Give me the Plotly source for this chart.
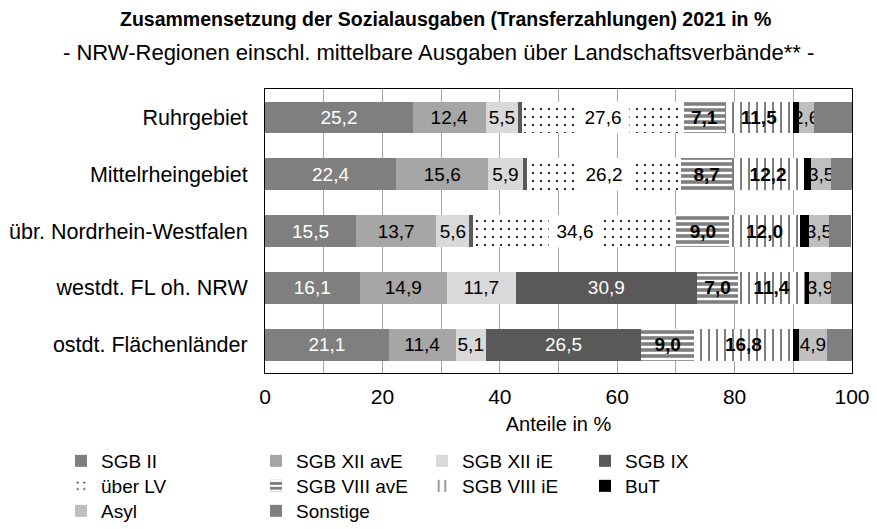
import plotly.graph_objects as go

regions = ["Ruhrgebiet", "Mittelrheingebiet", "übr. Nordrhein-Westfalen",
           "westdt. FL oh. NRW", "ostdt. Flächenländer"]
sgb2 = [25.2, 22.4, 15.5, 16.1, 21.1]
sgb12_ave = [12.4, 15.6, 13.7, 14.9, 11.4]
sgb12_ie = [5.5, 5.9, 5.6, 11.7, 5.1]
sgb9 = [0.6, 0.8, 0.7, 30.9, 26.5]
ueber_lv = [27.6, 26.2, 34.6, 0.0, 0.0]
sgb8_ave = [7.1, 8.7, 9.0, 7.0, 9.0]
sgb8_ie = [11.5, 12.2, 12.0, 11.4, 16.8]
but = [1.0, 1.2, 1.5, 0.6, 1.0]
asyl = [2.6, 3.5, 3.5, 3.9, 4.9]
sonstige = [6.5, 3.5, 3.8, 3.5, 4.2]
x_ticks = [0, 20, 40, 60, 80, 100]

FONT = "Liberation Sans, Arial, sans-serif"
FS = 19

W, H = 877, 529
ML, MR, MT, MB = 265, 25, 89, 156
PW, PH = W - ML - MR, H - MT - MB

# legend grid: text start x of each column, centre y of each row (pixels)
LEG_COL_X = [101, 296, 462, 625]
LEG_ROW_Y = [461, 486, 511]


def fmt(v):
    return f"{v:.1f}".replace(".", ",")


def labels(vals, minv=0.05, show=True):
    if not show:
        return None
    return [fmt(v) if v >= minv else "" for v in vals]


series = [
    # name, values, style, text colour, bold, min label, (col,row), show labels
    ("SGB II", sgb2, dict(color="#7f7f7f"), "white", False, 0.05, (0, 0), True),
    ("SGB XII avE", sgb12_ave, dict(color="#a6a6a6"), "black", False, 0.05, (1, 0), True),
    ("SGB XII iE", sgb12_ie, dict(color="#d9d9d9"), "black", False, 0.05, (2, 0), True),
    ("SGB IX", sgb9, dict(color="#595959"), "white", False, 5.0, (3, 0), True),
    ("über LV", ueber_lv,
     dict(color="white", pattern=dict(shape=".", fgcolor="black", bgcolor="white",
                                      size=8, solidity=0.06, fillmode="replace")),
     "black", False, 0.05, (0, 1), False),
    ("SGB VIII avE", sgb8_ave,
     dict(color="white", pattern=dict(shape="-", fgcolor="#7f7f7f", bgcolor="white",
                                      size=6, solidity=0.6, fillmode="replace")),
     "black", True, 0.05, (1, 1), True),
    ("SGB VIII iE", sgb8_ie,
     dict(color="white", pattern=dict(shape="|", fgcolor="#7f7f7f", bgcolor="white",
                                      size=8, solidity=0.25, fillmode="replace")),
     "black", True, 0.05, (2, 1), True),
    ("BuT", but, dict(color="black"), "black", False, 0.05, (3, 1), False),
    ("Asyl", asyl, dict(color="#bfbfbf"), "black", False, 0.05, (0, 2), True),
    ("Sonstige", sonstige, dict(color="#7f7f7f"), "black", False, 0.05, (1, 2), False),
]

fig = go.Figure()
legend_layouts = {}
for k, (name, vals, marker, tcol, bold, minv, (col, row), show) in enumerate(series):
    leg_id = "legend" if k == 0 else f"legend{k + 1}"
    txt = labels(vals, minv, show)
    fig.add_trace(go.Bar(
        name=name, y=regions, x=vals, orientation="h",
        marker=dict(line=dict(width=0), **marker),
        text=txt, textposition="inside" if show else "none",
        insidetextanchor="middle", constraintext="none", textangle=0,
        textfont=dict(family=FONT, size=FS, color=tcol,
                      weight="bold" if bold else "normal"),
        legend=leg_id, hoverinfo="x+name",
    ))
    legend_layouts[leg_id] = dict(
        orientation="v", xref="container", yref="container",
        x=(LEG_COL_X[col] - 40) / W, xanchor="left",
        y=1 - LEG_ROW_Y[row] / H, yanchor="middle",
        font=dict(family=FONT, size=19, color="black"),
        bgcolor="rgba(0,0,0,0)", itemwidth=30,
        itemclick=False, itemdoubleclick=False)

# label of "über LV" with white background box (as in reference)
annotations = []
for i, r in enumerate(regions):
    if ueber_lv[i] > 0:
        left = sgb2[i] + sgb12_ave[i] + sgb12_ie[i] + sgb9[i]
        annotations.append(dict(
            x=left + ueber_lv[i] / 2, y=r, xref="x", yref="y",
            xanchor="center", yanchor="middle",
            text=fmt(ueber_lv[i]), showarrow=False, bgcolor="white",
            font=dict(family=FONT, size=FS, color="black"),
            borderpad=5, width=42))

annotations.append(dict(
    text="<b>Zusammensetzung der Sozialausgaben (Transferzahlungen) 2021 in %</b>",
    x=(445 - ML) / PW, y=(MT + PH - 19) / PH, xref="paper", yref="paper",
    xanchor="center", yanchor="middle",
    showarrow=False, font=dict(family=FONT, size=19.5, color="black")))
annotations.append(dict(
    text="- NRW-Regionen einschl. mittelbare Ausgaben über Landschaftsverbände** -",
    x=(438 - ML) / PW, y=(MT + PH - 53) / PH, xref="paper", yref="paper",
    xanchor="center", yanchor="middle",
    showarrow=False, font=dict(family=FONT, size=22, color="black")))

fig.update_layout(
    width=W, height=H,
    margin=dict(l=ML, r=MR, t=MT, b=MB, autoexpand=False),
    paper_bgcolor="white", plot_bgcolor="white",
    barmode="stack", bargap=0.44,
    uniformtext=dict(minsize=FS, mode="show"),
    font=dict(family=FONT, size=FS, color="black"),
    xaxis=dict(range=[0, 100], tickvals=x_ticks, showgrid=True, automargin=False,
               gridcolor="#a6a6a6", gridwidth=1,
               minor=dict(dtick=10, showgrid=True, gridcolor="#a6a6a6", gridwidth=1),
               showline=True, linecolor="black", linewidth=1, mirror=True,
               ticks="", ticklabelstandoff=5, zeroline=False,
               tickfont=dict(family=FONT, size=21, color="black"),
               title=dict(text="Anteile in %", standoff=9,
                          font=dict(family=FONT, size=20, color="black"))),
    yaxis=dict(autorange="reversed", showline=True, linecolor="black", linewidth=1,
               mirror=True, ticks="", ticklabelstandoff=12, showgrid=False,
               automargin=False,
               tickfont=dict(family=FONT, size=21.5, color="black")),
    annotations=annotations,
    showlegend=True,
    **legend_layouts,
)

fig.write_html("out.html",
               config={"displayModeBar": False},
               post_script="document.body.style.margin='0';"
                           "document.body.style.overflow='hidden';")
